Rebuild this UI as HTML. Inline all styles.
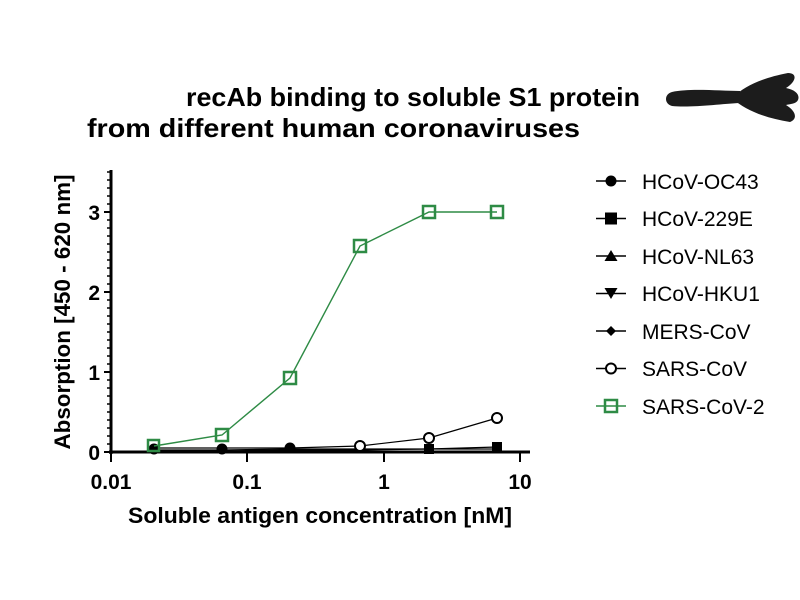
<!DOCTYPE html>
<html><head><style>body{margin:0;background:#fff}svg{display:block}</style></head><body>
<svg width="800" height="600" xmlns="http://www.w3.org/2000/svg" font-family="Liberation Sans, sans-serif">
<text x="186" y="106" font-size="26" font-weight="bold" textLength="454" lengthAdjust="spacingAndGlyphs">recAb binding to soluble S1 protein</text>
<text x="87" y="137" font-size="26" font-weight="bold" textLength="493" lengthAdjust="spacingAndGlyphs">from different human coronaviruses</text>
<g fill="#1c1c1c">
<path d="M672,92 C690,88 720,91 740,91 L740,103 C720,104 690,108 672,106 C664,104 664,94 672,92 Z"/>
<path d="M733,97 C745,86 762,78 788,73 C798,73 796,82 786,88 C796,90 800,95 798,100 C796,104 790,104 786,105 C796,111 798,119 790,122 C765,118 745,110 733,99 Z"/>
</g>
<g stroke="#000" fill="none">
<line x1="111" y1="170" x2="111" y2="454" stroke-width="3"/>
<line x1="109" y1="452" x2="530" y2="452" stroke-width="3"/>
<g stroke-width="2">
<line x1="104" y1="452" x2="111" y2="452"/><line x1="104" y1="372" x2="111" y2="372"/><line x1="104" y1="292" x2="111" y2="292"/><line x1="104" y1="212" x2="111" y2="212"/>
<line x1="111" y1="452" x2="111" y2="462"/><line x1="247" y1="452" x2="247" y2="462"/><line x1="384" y1="452" x2="384" y2="462"/><line x1="520" y1="452" x2="520" y2="462"/>
</g>
<path stroke-width="1.5" d="M107,444h4M107,436h4M107,428h4M107,420h4M107,412h4M107,404h4M107,396h4M107,388h4M107,380h4M107,364h4M107,356h4M107,348h4M107,340h4M107,332h4M107,324h4M107,316h4M107,308h4M107,300h4M107,284h4M107,276h4M107,268h4M107,260h4M107,252h4M107,244h4M107,236h4M107,228h4M107,220h4M107,204h4M107,196h4M107,188h4M107,180h4M107,172h4"/>
</g>
<g font-size="21" font-weight="bold" text-anchor="end">
<text x="100" y="460">0</text><text x="100" y="380">1</text><text x="100" y="300">2</text><text x="100" y="220">3</text>
</g>
<g font-size="21" font-weight="bold" text-anchor="middle">
<text x="111" y="489">0.01</text><text x="247" y="489">0.1</text><text x="384" y="489">1</text><text x="520" y="489">10</text>
<text x="320" y="523" font-size="22" textLength="384" lengthAdjust="spacingAndGlyphs">Soluble antigen concentration [nM]</text>
<text transform="translate(70,312) rotate(-90)" font-size="22" textLength="275" lengthAdjust="spacingAndGlyphs">Absorption [450 - 620 nm]</text>
</g>
<g stroke="#000" stroke-width="1.2" fill="none">
<polyline points="154,450 222,450 290,449 360,449 429,449 497,449"/>
<polyline points="154,451 222,451 290,450 360,450 429,449 497,447"/>
<polyline points="154,448 222,448 290,448 360,446 429,438 497,418"/>
</g>
<g fill="#000">
<circle cx="154" cy="449" r="5.5"/><circle cx="222" cy="449" r="5.5"/><circle cx="290" cy="448" r="5.5"/>
<rect x="424" y="444" width="10" height="10"/><rect x="492" y="442" width="10" height="10"/>
<rect x="355" y="445" width="10" height="8"/>
</g>
<g stroke="#000" stroke-width="2" fill="#fff">
<circle cx="360" cy="446" r="5"/><circle cx="429" cy="438" r="5"/><circle cx="497" cy="418" r="5"/>
</g>
<polyline points="154,446 222,435 290,378 360,246 429,212 497,212" fill="none" stroke="#2e8b45" stroke-width="1.4"/>
<g fill="none" stroke="#2e8b45" stroke-width="2.5">
<rect x="148" y="440" width="11" height="11"/><rect x="216" y="429" width="12" height="12"/><rect x="284" y="372" width="12" height="12"/><rect x="354" y="240" width="12" height="12"/><rect x="423" y="206" width="12" height="12"/><rect x="491" y="206" width="12" height="12"/>
</g>
<g font-size="21">
<text x="642" y="189">HCoV-OC43</text><text x="642" y="226">HCoV-229E</text><text x="642" y="264">HCoV-NL63</text><text x="642" y="301">HCoV-HKU1</text><text x="642" y="339">MERS-CoV</text><text x="642" y="376">SARS-CoV</text><text x="642" y="414">SARS-CoV-2</text>
</g>
<g stroke="#000" stroke-width="1.5">
<line x1="596" y1="181" x2="626" y2="181"/><line x1="596" y1="218.5" x2="626" y2="218.5"/><line x1="596" y1="256" x2="626" y2="256"/><line x1="596" y1="293.5" x2="626" y2="293.5"/><line x1="596" y1="331" x2="626" y2="331"/><line x1="596" y1="368.5" x2="626" y2="368.5"/>
</g>
<line x1="596" y1="406" x2="626" y2="406" stroke="#2e8b45" stroke-width="1.5"/>
<g fill="#000">
<circle cx="611" cy="181" r="5.5"/><rect x="605" y="212.5" width="12" height="12"/>
<polygon points="611,250 617.5,261 604.5,261"/><polygon points="604.5,288 617.5,288 611,299"/>
<polygon points="611,326 616,331 611,336 606,331"/>
</g>
<circle cx="611" cy="368.5" r="5" fill="#fff" stroke="#000" stroke-width="2"/>
<rect x="605" y="400" width="12" height="12" fill="none" stroke="#2e8b45" stroke-width="2.5"/>
</svg>
</body></html>
